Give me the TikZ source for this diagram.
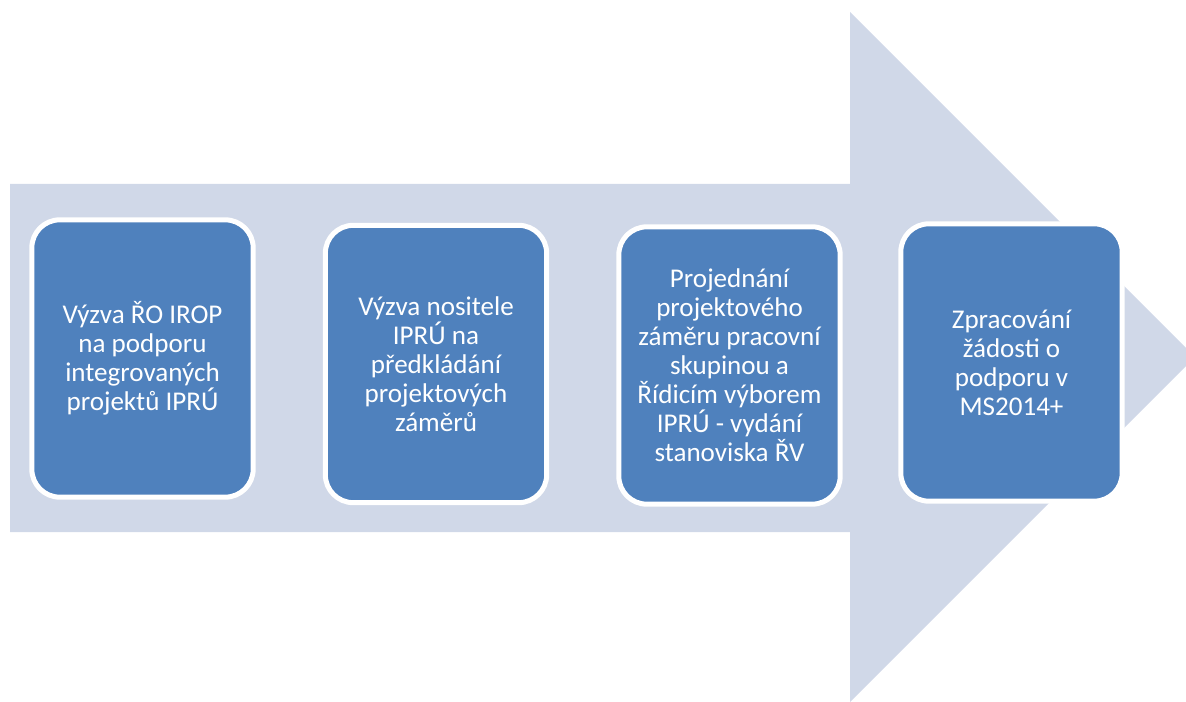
\documentclass[tikz,border=0pt]{standalone}
\usepackage{fontspec}
\setmainfont{Carlito}
\definecolor{arrowfill}{HTML}{D0D8E8}
\definecolor{boxfill}{HTML}{4F81BD}
\tikzset{
  stepbox/.style={draw=white, fill=boxfill, line width=3.75pt, rounded corners=21pt,
    minimum width=166pt, minimum height=208pt, align=center, text=white,
    font=\fontsize{20.3}{21.7}\selectfont, inner sep=0pt},
}
\begin{document}
\begin{tikzpicture}[x=0.75pt, y=-0.75pt]
\useasboundingbox (0,0) rectangle (1186,702);
\clip (0,0) rectangle (1186,702);
\fill[arrowfill] (10,184) -- (850,184) -- (850,12) -- (1195,357) -- (850,702) -- (850,532) -- (10,532) -- cycle;
\node[stepbox] (s1) at (142.5,358.5) {Výzva ŘO IROP\\na podporu\\integrovaných\\projektů IPRÚ};
\node[stepbox] (s2) at (436,364) {Výzva nositele\\IPRÚ na\\předkládání\\projektových\\záměrů};
\node[stepbox] (s3) at (729.5,365.5) {Projednání\\projektového\\záměru pracovní\\skupinou a\\Řídicím výborem\\IPRÚ - vydání\\stanoviska ŘV};
\node[stepbox] (s4) at (1011.5,362.5) {Zpracování\\žádosti o\\podporu v\\MS2014+};
\end{tikzpicture}
\end{document}
